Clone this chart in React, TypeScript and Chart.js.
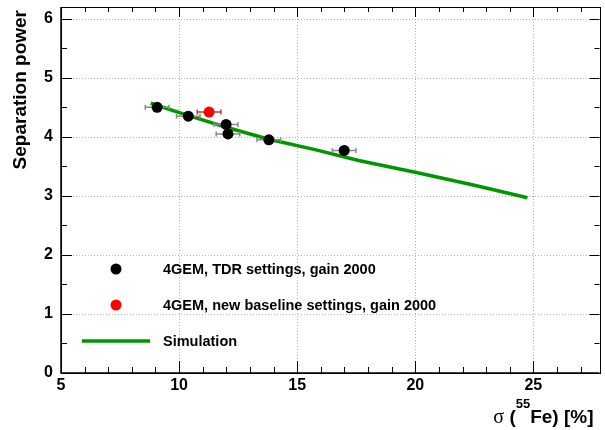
import { useEffect, useRef } from 'react';
import { Chart, registerables } from 'chart.js';

Chart.register(...registerables);

// ---- data ----
const tdrX = [9.07, 10.39, 11.99, 12.07, 13.8, 16.99];
const tdrY = [4.5, 4.35, 4.21, 4.05, 3.95, 3.77];
const tdrXErr = [0.5, 0.5, 0.5, 0.5, 0.5, 0.5];

const newX = [11.27];
const newY = [4.42];
const newXErr = [0.5];

const simX = [8.8, 10.4, 12.1, 13.8, 15.8, 17.6, 20.0, 22.5, 24.75];
const simY = [4.57, 4.36, 4.15, 3.96, 3.78, 3.6, 3.4, 3.18, 2.97];

const xTicks = [5, 10, 15, 20, 25];
const yTicks = [0, 1, 2, 3, 4, 5, 6];
const xRange = [5, 27.8];
const yRange = [0, 6.2];

const legendLabels = [
  '4GEM, TDR settings, gain 2000',
  '4GEM, new baseline settings, gain 2000',
  'Simulation',
];
const yTitle = 'Separation power';

const GREEN = 'rgb(0,150,0)';
const SANS = '"Liberation Sans", Arial, Helvetica, sans-serif';

const rootPlugin = {
  id: 'rootStyle',
  beforeDatasetsDraw(chart: any) {
    const { ctx, chartArea: a, scales } = chart;
    const x = scales.x;
    const y = scales.y;
    ctx.save();
    // dotted grid
    ctx.strokeStyle = '#b0b0b0';
    ctx.lineWidth = 1;
    ctx.setLineDash([1, 2]);
    for (const v of xTicks) {
      if (v <= xRange[0]) continue;
      const px = Math.round(x.getPixelForValue(v)) + 0.5;
      ctx.beginPath();
      ctx.moveTo(px, a.top);
      ctx.lineTo(px, a.bottom);
      ctx.stroke();
    }
    for (const v of yTicks) {
      if (v <= yRange[0]) continue;
      const py = Math.round(y.getPixelForValue(v)) + 0.5;
      ctx.beginPath();
      ctx.moveTo(a.left, py);
      ctx.lineTo(a.right, py);
      ctx.stroke();
    }
    ctx.setLineDash([]);
    // tick marks
    ctx.strokeStyle = '#000';
    ctx.lineWidth = 1;
    for (let i = Math.ceil(xRange[0]); i <= Math.floor(xRange[1]); i++) {
      const major = i % 5 === 0;
      const px = Math.round(x.getPixelForValue(i)) + 0.5;
      ctx.beginPath();
      ctx.moveTo(px, a.bottom);
      ctx.lineTo(px, a.bottom - (major ? 12 : 6));
      ctx.moveTo(px, a.top);
      ctx.lineTo(px, a.top + (major ? 10 : 5));
      ctx.stroke();
    }
    for (let i = 0; i <= Math.floor(yRange[1] * 2); i++) {
      const v = i / 2;
      const major = i % 2 === 0;
      const py = Math.round(y.getPixelForValue(v)) + 0.5;
      ctx.beginPath();
      ctx.moveTo(a.left, py);
      ctx.lineTo(a.left + (major ? 11 : 6), py);
      ctx.moveTo(a.right, py);
      ctx.lineTo(a.right - (major ? 10 : 5), py);
      ctx.stroke();
    }
    // frame
    ctx.lineWidth = 1;
    ctx.strokeRect(Math.round(a.left) + 0.5, Math.round(a.top) + 0.5, Math.round(a.right - a.left), Math.round(a.bottom - a.top));
    ctx.lineWidth = 1.5;
    ctx.beginPath();
    ctx.moveTo(a.left, a.top);
    ctx.lineTo(a.left, a.bottom);
    ctx.lineTo(a.right, a.bottom);
    ctx.stroke();
    ctx.restore();
  },
  beforeDatasetDraw(chart: any, args: any) {
    const sets: Record<number, { xs: number[]; ys: number[]; es: number[]; color: string }> = {
      0: { xs: tdrX, ys: tdrY, es: tdrXErr, color: '#8a8a8a' },
      1: { xs: newX, ys: newY, es: newXErr, color: '#b04040' },
    };
    const s = sets[args.index];
    if (!s) return;
    const { ctx, scales } = chart;
    ctx.save();
    ctx.strokeStyle = s.color;
    ctx.lineWidth = 1.5;
    s.xs.forEach((xv, i) => {
      const x0 = scales.x.getPixelForValue(xv - s.es[i]);
      const x1 = scales.x.getPixelForValue(xv + s.es[i]);
      const py = scales.y.getPixelForValue(s.ys[i]);
      ctx.beginPath();
      ctx.moveTo(x0, py);
      ctx.lineTo(x1, py);
      ctx.moveTo(x0, py - 2.5);
      ctx.lineTo(x0, py + 2.5);
      ctx.moveTo(x1, py - 2.5);
      ctx.lineTo(x1, py + 2.5);
      ctx.stroke();
    });
    ctx.restore();
  },
  afterDraw(chart: any) {
    const { ctx, chartArea: a } = chart;
    ctx.save();
    ctx.fillStyle = '#000';
    // y title
    ctx.save();
    ctx.translate(26, a.top + 3);
    ctx.rotate(-Math.PI / 2);
    ctx.font = `bold 19px ${SANS}`;
    ctx.textAlign = 'right';
    ctx.textBaseline = 'alphabetic';
    ctx.fillText(yTitle, 0, 0);
    ctx.restore();
    // x title: σ (^55Fe) [%]
    const parts = [
      { t: 'σ', f: `20px "Liberation Serif", "DejaVu Serif", serif`, dy: 0 },
      { t: ' (', f: `bold 19px ${SANS}`, dy: 0 },
      { t: '55', f: `bold 13px ${SANS}`, dy: -15 },
      { t: 'Fe) [%]', f: `bold 19px ${SANS}`, dy: 0 },
    ];
    let total = 0;
    for (const p of parts) {
      ctx.font = p.f;
      total += ctx.measureText(p.t).width;
    }
    let cx = a.right - 6 - total;
    const base = 423;
    ctx.textAlign = 'left';
    ctx.textBaseline = 'alphabetic';
    for (const p of parts) {
      ctx.font = p.f;
      ctx.fillText(p.t, cx, base + p.dy);
      cx += ctx.measureText(p.t).width;
    }
    // legend
    const lx = 116;
    const tx = 163;
    const rows = [269, 305, 341];
    ctx.font = `bold 14.5px ${SANS}`;
    ctx.textBaseline = 'middle';
    ctx.fillStyle = '#000';
    ctx.beginPath();
    ctx.arc(lx, rows[0], 5.5, 0, Math.PI * 2);
    ctx.fill();
    ctx.fillStyle = '#ff0000';
    ctx.beginPath();
    ctx.arc(lx, rows[1], 5.5, 0, Math.PI * 2);
    ctx.fill();
    ctx.strokeStyle = GREEN;
    ctx.lineWidth = 3.5;
    ctx.beginPath();
    ctx.moveTo(82, rows[2]);
    ctx.lineTo(150, rows[2]);
    ctx.stroke();
    ctx.fillStyle = '#000';
    legendLabels.forEach((l, i) => ctx.fillText(l, tx, rows[i] + 1));
    ctx.restore();
  },
};

export default function App() {
  const ref = useRef<HTMLCanvasElement>(null);
  useEffect(() => {
    if (!ref.current) return;
    const tickFont = { family: SANS, size: 16, weight: 'bold' as const };
    const chart = new Chart(ref.current, {
      type: 'scatter',
      data: {
        datasets: [
          {
            label: legendLabels[0],
            data: tdrX.map((x, i) => ({ x, y: tdrY[i] })),
            backgroundColor: '#000',
            borderColor: '#000',
            pointRadius: 5.5,
            pointHoverRadius: 5.5,
            borderWidth: 0,
            order: 1,
          },
          {
            label: legendLabels[1],
            data: newX.map((x, i) => ({ x, y: newY[i] })),
            backgroundColor: '#ff0000',
            borderColor: '#ff0000',
            pointRadius: 5.5,
            pointHoverRadius: 5.5,
            borderWidth: 0,
            order: 2,
          },
          {
            type: 'line',
            label: legendLabels[2],
            data: simX.map((x, i) => ({ x, y: simY[i] })),
            borderColor: GREEN,
            backgroundColor: GREEN,
            borderWidth: 3.5,
            pointRadius: 0,
            showLine: true,
            fill: false,
            tension: 0,
            order: 3,
          } as any,
        ],
      },
      options: {
        animation: false,
        responsive: false,
        events: [],
        layout: { padding: { left: 0, top: 7, right: 2, bottom: 0 } },
        plugins: { legend: { display: false }, tooltip: { enabled: false } },
        scales: {
          x: {
            type: 'linear',
            min: xRange[0],
            max: xRange[1],
            grid: { display: false, drawTicks: false },
            border: { display: false },
            ticks: { font: tickFont, color: '#000', padding: 3, maxRotation: 0, autoSkip: false },
            afterBuildTicks: (s: any) => {
              s.ticks = xTicks.map((v) => ({ value: v }));
            },
            afterFit: (s: any) => {
              s.height = 57;
              s.paddingLeft = 0;
              s.paddingRight = 0;
            },
          },
          y: {
            type: 'linear',
            min: yRange[0],
            max: yRange[1],
            grid: { display: false, drawTicks: false },
            border: { display: false },
            ticks: { font: tickFont, color: '#000', padding: 8, autoSkip: false },
            afterBuildTicks: (s: any) => {
              s.ticks = yTicks.map((v) => ({ value: v }));
            },
            afterFit: (s: any) => {
              s.width = 61;
              s.paddingTop = 0;
              s.paddingBottom = 0;
            },
          },
        },
      },
      plugins: [rootPlugin as any],
    });
    return () => chart.destroy();
  }, []);
  return (
    <div style={{ position: 'absolute', left: 0, top: 0, width: 605, height: 430, background: '#fff' }}>
      <canvas ref={ref} width={605} height={430} style={{ display: 'block' }} />
    </div>
  );
}
